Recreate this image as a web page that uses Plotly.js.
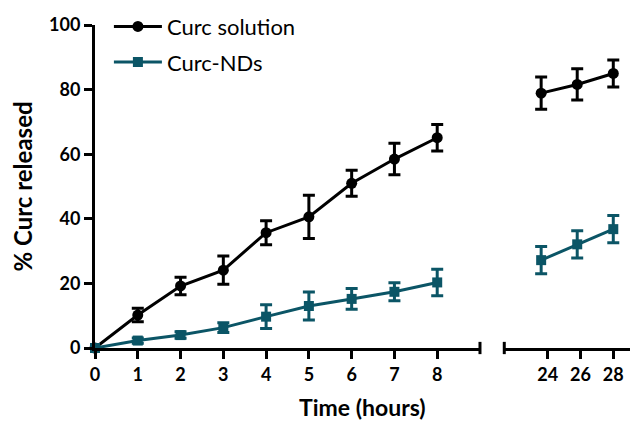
<!DOCTYPE html>
<html>
<head>
<meta charset="utf-8">
<script src="https://cdn.plot.ly/plotly-3.0.1.min.js"></script>
<style>html,body{margin:0;padding:0;background:#fff;}#chart{width:630px;height:421px;}</style>
</head>
<body>
<div id="chart"></div>
<script>
// ---- data ----
const timeEarly = [0, 1, 2, 3, 4, 5, 6, 7, 8];
const timeLate = [23.6, 25.8, 28];
const solutionEarly = [0, 10.2, 19.2, 24.1, 35.7, 40.6, 51.0, 58.5, 65.1];
const solutionEarlyErr = [0, 2.1, 2.7, 4.4, 3.7, 6.7, 4.0, 4.9, 4.1];
const solutionLate = [78.9, 81.6, 85.0];
const solutionLateErr = [5.0, 4.85, 4.2];
const ndsEarly = [0, 2.3, 4.0, 6.3, 9.7, 13.0, 15.2, 17.4, 20.3];
const ndsEarlyErr = [0, 0.8, 1.0, 1.5, 3.7, 4.3, 3.2, 2.8, 4.1];
const ndsLate = [27.2, 32.1, 36.8];
const ndsLateErr = [4.2, 4.2, 4.2];
const seriesNames = ['Curc solution', 'Curc-NDs'];
const earlyTicks = [0, 1, 2, 3, 4, 5, 6, 7, 8];
const lateTicks = [24, 26, 28];
const yTicks = [0, 20, 40, 60, 80, 100];

const BLACK = '#000000';
const TEAL = '#0b5566';

function series(x, y, err, name, color, symbol, xaxis, showlegend) {
  return {
    type: 'scatter', mode: 'lines+markers', x: x, y: y, name: name,
    xaxis: xaxis, yaxis: 'y', legendgroup: name, showlegend: showlegend,
    cliponaxis: false,
    line: {color: color, width: 3},
    marker: {color: color, size: symbol === 'circle' ? 11 : 10, symbol: symbol},
    error_y: {type: 'data', array: err, visible: true, color: color, thickness: 3, width: 6}
  };
}

const data = [
  series(timeEarly, solutionEarly, solutionEarlyErr, seriesNames[0], BLACK, 'circle', 'x', true),
  series(timeLate, solutionLate, solutionLateErr, seriesNames[0], BLACK, 'circle', 'x2', false),
  series(timeEarly, ndsEarly, ndsEarlyErr, seriesNames[1], TEAL, 'square', 'x', true),
  series(timeLate, ndsLate, ndsLateErr, seriesNames[1], TEAL, 'square', 'x2', false)
];

const tickFont = {family: 'Lato, sans-serif', size: 18, color: '#000', weight: 'bold'};
const axisCommon = {
  showline: true, linecolor: '#000', linewidth: 3,
  ticks: 'outside', ticklen: 8, tickwidth: 3, tickcolor: '#000',
  showgrid: false, zeroline: false, tickfont: tickFont, fixedrange: true
};

const capShape = (xref, xpos) => ({
  type: 'line', xref: xref, x0: xpos, x1: xpos,
  yref: 'y domain', y0: -0.019, y1: 0.019,
  line: {color: '#000', width: 3}
});

const layout = {
  width: 630, height: 421,
  margin: {l: 95, r: 0, t: 25, b: 73},
  paper_bgcolor: '#fff', plot_bgcolor: '#fff',
  font: {family: 'Lato, sans-serif', color: '#000'},
  showlegend: true,
  legend: {
    x: 0.026, y: 1.06, xanchor: 'left', yanchor: 'top',
    font: {family: 'Lato, sans-serif', size: 22, color: '#000'},
    bgcolor: 'rgba(0,0,0,0)', traceorder: 'grouped', tracegroupgap: 4,
    itemwidth: 48
  },
  xaxis: Object.assign({}, axisCommon, {
    domain: [0, 0.7196], range: [0, 9], tickvals: earlyTicks, ticktext: earlyTicks.map(String), anchor: 'y'
  }),
  xaxis2: Object.assign({}, axisCommon, {
    domain: [0.765, 1], range: [21.35, 29.02], tickvals: lateTicks, ticktext: lateTicks.map(String), anchor: 'y'
  }),
  yaxis: Object.assign({}, axisCommon, {
    range: [0, 100], tickvals: yTicks, ticktext: yTicks.map(String),
    title: {text: '% Curc released', font: {family: 'Lato, sans-serif', size: 24, color: '#000', weight: 'bold'}, standoff: 10}
  }),
  shapes: [capShape('x domain', 1), capShape('x2 domain', 0)],
  annotations: [{
    text: 'Time (hours)', xref: 'paper', yref: 'paper', x: 0.5, y: 0,
    xanchor: 'center', yanchor: 'middle', yshift: -59, showarrow: false,
    font: {family: 'Lato, sans-serif', size: 23, color: '#000', weight: 'bold'}
  }]
};

Plotly.newPlot('chart', data, layout, {displayModeBar: false, staticPlot: true});
</script>
</body>
</html>
